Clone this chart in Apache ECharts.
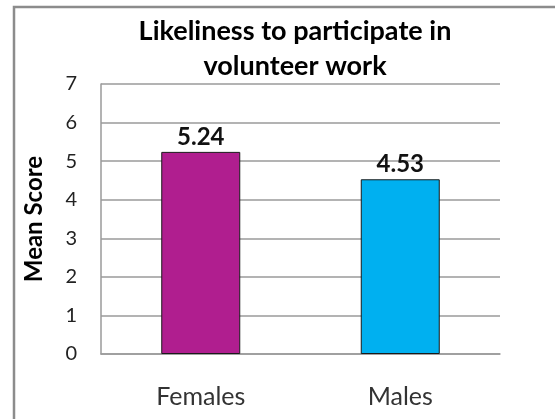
<!DOCTYPE html>
<html>
<head>
<meta charset="utf-8">
<script src="https://cdn.jsdelivr.net/npm/echarts@6/dist/echarts.min.js"></script>
<style>
  html, body { margin: 0; padding: 0; background: #fff; }
  #chart { width: 555px; height: 419px; }
</style>
</head>
<body>
<div id="chart"></div>
<script>
// Mean score by gender
const categories = ['Females', 'Males'];
const meanScores = [5.24, 4.53];
const barColors = ['#B01E8F', '#00B0F0'];
const yTicks = [0, 1, 2, 3, 4, 5, 6, 7];

const chart = echarts.init(document.getElementById('chart'), null, { renderer: 'canvas' });
const FONT = 'Lato, "Open Sans", sans-serif';

chart.setOption({
  animation: false,
  backgroundColor: '#fff',
  title: {
    text: 'Likeliness to participate in\nvolunteer work',
    left: 290,
    top: 9,
    textAlign: 'center',
    textStyle: {
      fontFamily: FONT,
      fontWeight: 'bold',
      fontSize: 27,
      lineHeight: 35,
      color: '#000'
    }
  },
  graphic: [{
    type: 'rect',
    shape: { x: 14, y: 7, width: 700, height: 600 },
    style: { fill: 'none', stroke: '#8c8c8c', lineWidth: 2.5 },
    z: 100
  }],
  grid: { left: 101, right: 55, top: 84, bottom: 65 },
  xAxis: {
    type: 'category',
    data: categories,
    axisLine: { show: true, lineStyle: { color: '#9a9a9a', width: 1.5 } },
    axisTick: { show: false },
    axisLabel: {
      margin: 30,
      fontFamily: FONT,
      fontSize: 25,
      color: '#333'
    }
  },
  yAxis: {
    type: 'value',
    min: yTicks[0],
    max: yTicks[yTicks.length - 1],
    interval: 1,
    name: 'Mean Score',
    nameLocation: 'middle',
    nameGap: 55,
    nameTextStyle: {
      fontFamily: FONT,
      fontWeight: 'bold',
      fontSize: 24,
      color: '#000'
    },
    axisLine: { show: true, lineStyle: { color: '#9a9a9a', width: 1.5 } },
    axisTick: { show: false },
    axisLabel: {
      margin: 24,
      fontFamily: FONT,
      fontSize: 20,
      color: '#222'
    },
    splitLine: { show: true, lineStyle: { color: '#9a9a9a', width: 1.5 } }
  },
  series: [{
    type: 'bar',
    data: meanScores.map((v, i) => ({ value: v, itemStyle: { color: barColors[i] } })),
    barWidth: 79,
    itemStyle: { borderColor: '#1a1a1a', borderWidth: 1 },
    label: {
      show: true,
      position: 'top',
      distance: 3,
      formatter: p => p.value.toFixed(2),
      fontFamily: FONT,
      fontWeight: 'bold',
      fontSize: 24,
      color: '#111'
    }
  }]
});
</script>
</body>
</html>
